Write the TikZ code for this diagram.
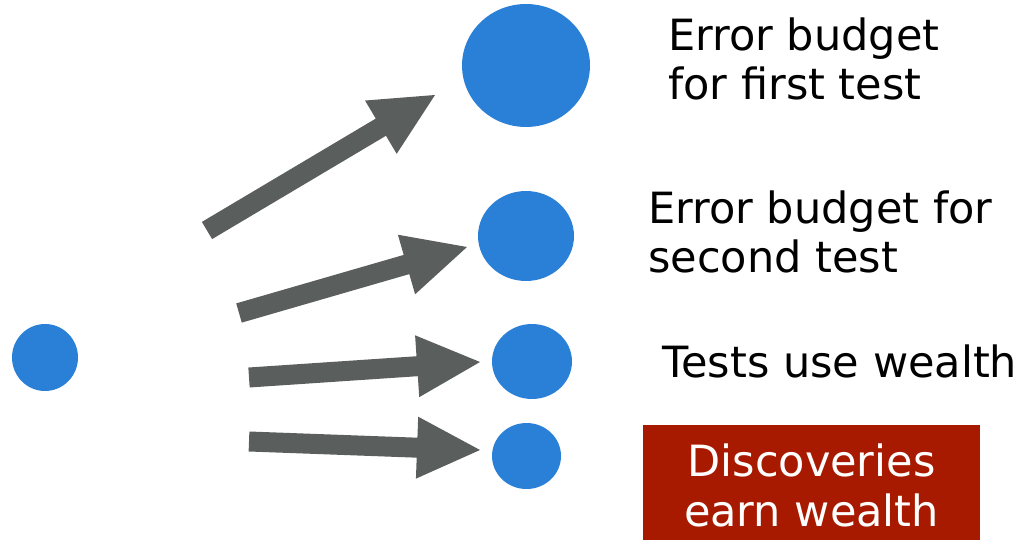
\documentclass[tikz,border=0pt]{standalone}
\usepackage{fontspec}
\newfontfamily\labelfont{DejaVu Sans}
\usetikzlibrary{calc,shapes.geometric}
\definecolor{dotblue}{HTML}{2A7FD6}
\definecolor{arrowgray}{HTML}{5A5E5C}
\definecolor{boxred}{HTML}{A81A00}
% fat arrow from tail (#1) to tip (#2)
\newcommand{\blockarrow}[2]{%
  \coordinate (hb) at ($(#2)!1.26cm!(#1)$);
  \fill[arrowgray] ($(#1)!0.2cm!90:(#2)$) -- ($(hb)!0.2cm!90:(#2)$)
    -- ($(hb)!0.62cm!90:(#2)$) -- (#2) -- ($(hb)!0.62cm!-90:(#2)$)
    -- ($(hb)!0.2cm!-90:(#2)$) -- ($(#1)!0.2cm!-90:(#2)$) -- cycle;}

\begin{document}
\begin{tikzpicture}[x=0.02cm, y=-0.02cm]
		\tikzstyle{dot}=[ellipse, fill=dotblue, inner sep=0pt]
		\tikzstyle{lbl}=[font=\labelfont\fontsize{24.5}{28.4}\selectfont, inner sep=0pt, align=left]
		\useasboundingbox (0,0) rectangle (1023,540);
		\node [dot, minimum width=1.32cm, minimum height=1.34cm] (start) at (45,357.5) {};
		\node [dot, minimum width=2.56cm, minimum height=2.46cm] (bud1) at (526,65.5) {};
		\node [dot, minimum width=1.92cm, minimum height=1.8cm] (bud2) at (526,236) {};
		\node [dot, minimum width=1.6cm, minimum height=1.5cm] (bud3) at (532,361.5) {};
		\node [dot, minimum width=1.38cm, minimum height=1.32cm] (bud4) at (526.5,456) {};
		\coordinate (tail1) at (207,230.5);
		\coordinate (tip1) at (435,95);
		\coordinate (tail2) at (239,313);
		\coordinate (tip2) at (467,247);
		\coordinate (tail3) at (249,377.5);
		\coordinate (tip3) at (480,362);
		\coordinate (tail4) at (249,441.5);
		\coordinate (tip4) at (480,450);
		\foreach \i in {1,...,4} {\blockarrow{tail\i}{tip\i}}
		\node [lbl, anchor=base west] (first) at (668,100) {Error budget\\for first test};
		\node [lbl, anchor=base west] (second) at (648,273) {Error budget for\\second test};
		\node [lbl, anchor=base west] (use) at (662,377) {Tests use wealth};
		\node [lbl, align=center, text=white, fill=boxred, minimum width=6.74cm, minimum height=2.4cm] (earn) at (811.5,485) {Discoveries\\earn wealth};
\end{tikzpicture}
\end{document}
